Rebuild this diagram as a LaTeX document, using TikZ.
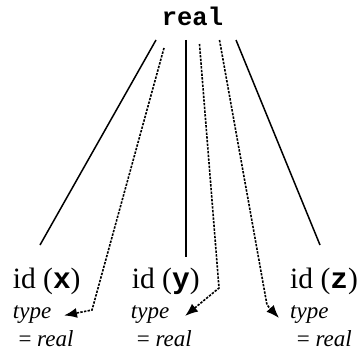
\documentclass[tikz,border=0pt]{standalone}
\usepackage{fontspec}
\setmainfont{Liberation Serif}
\setmonofont{Liberation Mono}
\usepackage{tikz}
\usetikzlibrary{arrows.meta,positioning}
\tikzstyle{idlab} = [inner sep=0pt,anchor=base west,font=\fontsize{29.5}{32}\selectfont]
\tikzstyle{attr} = [inner sep=0pt,anchor=base west,font=\fontsize{23}{26}\selectfont\itshape]
\tikzstyle{edge} = [line width=1.5pt]
\tikzstyle{ptr} = [line width=1.6pt,dash pattern=on 2.4pt off 1.3pt,-{Latex[length=13pt,width=10pt]}]
\newcommand{\vname}[1]{\texttt{\textbf{#1}}}

\begin{document}
\begin{tikzpicture}[x=1pt,y=-1pt]
\useasboundingbox (0,0) rectangle (363,353);

% root
\node[inner sep=0pt,anchor=base,font=\fontsize{25.5}{28}\selectfont\ttfamily\bfseries] (root) at (192.5,26) {real};

% children
\node[idlab] (idx) at (12.7,288) {id (\vname{x})};
\node[idlab] (idy) at (131.7,288) {id (\vname{y})};
\node[idlab] (idz) at (290,288) {id (\vname{z})};

% attributes
\node[attr] (tx) at (12.7,318) {type};
\node[attr] (ty) at (130.7,318) {type};
\node[attr] (tz) at (290,318) {type};
\node[attr] (rx) at (18.3,346.5) {\upshape= \itshape real};
\node[attr] (ry) at (136.7,346.5) {\upshape= \itshape real};
\node[attr] (rz) at (296.7,346.5) {\upshape= \itshape real};

% ends of the tree edges
\coordinate (sx) at (156,40);
\coordinate (sy) at (186,40);
\coordinate (sz) at (236,40);
\coordinate (ex) at (40,245);
\coordinate (ey) at (186,257);
\coordinate (ez) at (320,245);
\draw[edge] (sx) -- (ex);
\draw[edge] (sy) -- (ey);
\draw[edge] (sz) -- (ez);

% dotted copies of the type
\coordinate (p1) at (164,48);
\coordinate (q1) at (92,310);
\coordinate (t1) at (64,315.5);
\coordinate (p2) at (199.5,44);
\coordinate (q2) at (219,288);
\coordinate (t2) at (185,316);
\coordinate (p3) at (219.5,40);
\coordinate (q3) at (267,305);
\coordinate (t3) at (279,318);
\draw[ptr] (p1) -- (q1) -- (t1);
\draw[ptr] (p2) -- (q2) -- (t2);
\draw[ptr] (p3) -- (q3) -- (t3);
\end{tikzpicture}
\end{document}
